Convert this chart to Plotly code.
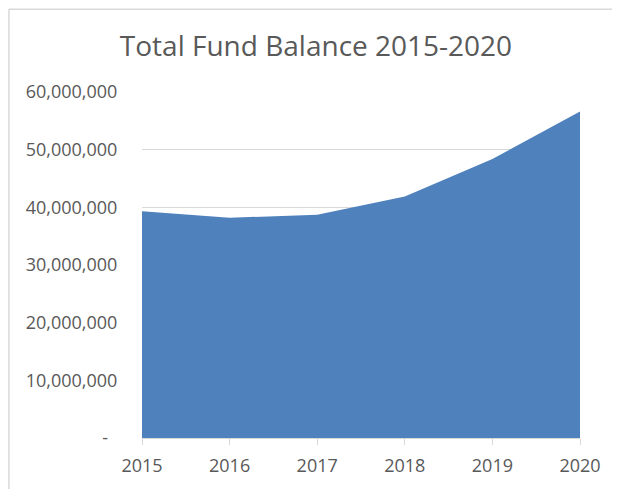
import plotly.graph_objects as go

years = [2015, 2016, 2017, 2018, 2019, 2020]
balance = [39300000, 38200000, 38700000, 41900000, 48400000, 56600000]

y_tickvals = [0, 10000000, 20000000, 30000000, 40000000, 50000000, 60000000]
y_ticktext = ["-\u00a0\u00a0", "10,000,000", "20,000,000", "30,000,000", "40,000,000", "50,000,000", "60,000,000"]
title_text = "Total Fund Balance 2015-2020"

OFF = 8  # page body margin
W, H = 620 - OFF, 489 - OFF
L, R, T, B = 142 - OFF, 40, 92 - OFF, 49
pw, ph = W - L - R, H - T - B

fig = go.Figure()
fig.add_trace(go.Scatter(
    x=years, y=balance, mode="lines", fill="tozeroy",
    line=dict(width=0, color="#4F81BD"), fillcolor="#4F81BD",
    hoverinfo="x+y",
))

font = "Open Sans, Liberation Sans, sans-serif"
border_y = (H - B - 0.75) / ph
border_x = (0.9 - L) / pw
fig.update_layout(
    width=W, height=H,
    margin=dict(l=L, r=R, t=T, b=B),
    paper_bgcolor="white", plot_bgcolor="white",
    showlegend=False,
    font=dict(family=font, color="#595959", size=18),
    title=dict(text=title_text, x=(316 - OFF) / W, xref="container", xanchor="center",
               y=1 - (46 - OFF) / H, yref="container", yanchor="middle",
               font=dict(size=28, color="#595959", family=font)),
    xaxis=dict(range=[2015, 2020], tickvals=years, ticktext=[str(y) for y in years],
               showgrid=False, showline=True, linecolor="#D9D9D9", linewidth=1,
               ticks="outside", ticklen=6, tickcolor="#D9D9D9", tickwidth=1,
               ticklabelstandoff=5,
               zeroline=False, tickfont=dict(size=18, color="#595959")),
    yaxis=dict(range=[0, 60000000], tickvals=y_tickvals, ticktext=y_ticktext,
               showgrid=True, gridcolor="#D9D9D9", gridwidth=1,
               zeroline=False, showline=False,
               ticks="outside", ticklen=20, tickcolor="rgba(0,0,0,0)",
               tickfont=dict(size=18, color="#595959")),
    shapes=[
        dict(type="line", xref="paper", yref="paper",
             x0=border_x, x1=(W + 5 - L) / pw,
             y0=border_y, y1=border_y,
             line=dict(color="#D9D9D9", width=1.5)),
        dict(type="line", xref="paper", yref="paper",
             x0=border_x, x1=border_x,
             y0=border_y, y1=(-B - 5) / ph,
             line=dict(color="#D9D9D9", width=1.5)),
    ],
)

fig.write_html("out.html")
